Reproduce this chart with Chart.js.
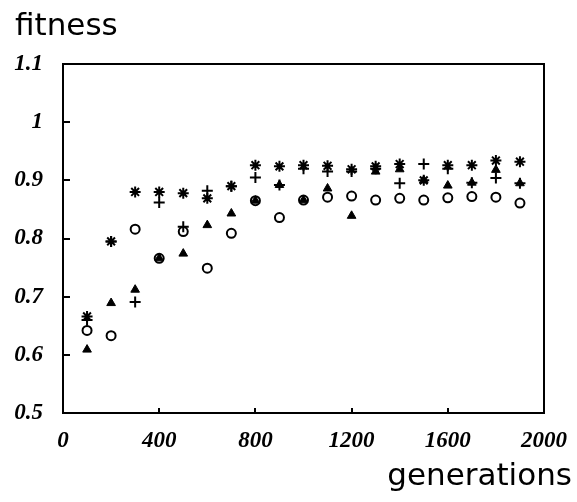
<!DOCTYPE html>
<html>
<head>
<meta charset="utf-8">
<script src="https://cdn.jsdelivr.net/npm/chart.js@4"></script>
<style>
  html, body { margin: 0; padding: 0; background: #fff; }
  #wrap { width: 577px; height: 502px; }
</style>
</head>
<body>
<div id="wrap"><canvas id="fitnessChart" width="577" height="502"></canvas></div>
<script>
// generations sampled every 100
const generations = [100, 200, 300, 400, 500, 600, 700, 800, 900, 1000,
  1100, 1200, 1300, 1400, 1500, 1600, 1700, 1800, 1900];

// fitness per run
const starFitness = [0.666, 0.795, 0.880, 0.880, 0.878, 0.869, 0.890, 0.926, 0.924, 0.926,
  0.925, 0.919, 0.924, 0.928, 0.900, 0.926, 0.926, 0.934, 0.932];
const plusFitness = [0.660, 0.795, 0.691, 0.862, 0.820, 0.882, 0.890, 0.905, 0.892, 0.920,
  0.915, 0.915, 0.920, 0.895, 0.928, 0.920, 0.896, 0.904, 0.895];
const triangleFitness = [0.609, 0.689, 0.712, 0.766, 0.774, 0.823, 0.843, 0.865, 0.892, 0.866,
  0.886, 0.839, 0.915, 0.919, 0.900, 0.891, 0.896, 0.918, 0.895];
const circleFitness = [0.642, 0.633, 0.816, 0.766, 0.812, 0.749, 0.809, 0.865, 0.836, 0.866,
  0.871, 0.873, 0.866, 0.869, 0.866, 0.870, 0.872, 0.871, 0.861];

const xTicks = [0, 400, 800, 1200, 1600, 2000];
const yTicks = [0.5, 0.6, 0.7, 0.8, 0.9, 1, 1.1];

const toPoints = (ys) => generations.map((g, i) => ({ x: g, y: ys[i] }));

const tickFont = { family: '"Liberation Serif", serif', size: 23, style: 'italic', weight: 'bold' };

// frame, inward tick marks and the two axis captions
const framePlugin = {
  id: 'frame',
  afterDraw(chart) {
    const { ctx, chartArea: a, scales } = chart;
    ctx.save();
    ctx.strokeStyle = '#000';
    ctx.lineWidth = 2;
    ctx.strokeRect(a.left, a.top, a.right - a.left, a.bottom - a.top);
    ctx.beginPath();
    xTicks.slice(1, -1).forEach(v => {
      const px = Math.round(scales.x.getPixelForValue(v));
      ctx.moveTo(px, a.bottom);
      ctx.lineTo(px, a.bottom - 5);
    });
    yTicks.slice(1, -1).forEach(v => {
      const py = Math.round(scales.y.getPixelForValue(v));
      ctx.moveTo(a.left, py);
      ctx.lineTo(a.left + 7, py);
    });
    ctx.stroke();

    ctx.fillStyle = '#000';
    ctx.font = '31px "DejaVu Sans", sans-serif';
    ctx.textBaseline = 'alphabetic';
    ctx.textAlign = 'left';
    ctx.fillText('fitness', 15, 35);
    ctx.textAlign = 'right';
    ctx.fillText('generations', 572, 485);
    ctx.restore();
  }
};

const ctx = document.getElementById('fitnessChart').getContext('2d');
new Chart(ctx, {
  type: 'scatter',
  data: {
    datasets: [
      {
        label: 'star',
        data: toPoints(starFitness),
        pointStyle: 'star',
        radius: 5.5,
        borderWidth: 2,
        borderColor: '#000',
        backgroundColor: '#000'
      },
      {
        label: 'plus',
        data: toPoints(plusFitness),
        pointStyle: 'cross',
        radius: 5.5,
        borderWidth: 2,
        borderColor: '#000',
        backgroundColor: '#000'
      },
      {
        label: 'triangle',
        data: toPoints(triangleFitness),
        pointStyle: 'triangle',
        radius: 5,
        borderWidth: 1,
        borderColor: '#000',
        backgroundColor: '#000'
      },
      {
        label: 'circle',
        data: toPoints(circleFitness),
        pointStyle: 'circle',
        radius: 4.5,
        borderWidth: 2,
        borderColor: '#000',
        backgroundColor: '#fff'
      }
    ]
  },
  options: {
    responsive: false,
    animation: false,
    devicePixelRatio: 1,
    layout: { padding: { left: 0, top: 64, right: 33, bottom: 0 } },
    plugins: {
      legend: { display: false },
      tooltip: { enabled: false }
    },
    scales: {
      x: {
        type: 'linear',
        min: 0,
        max: 2000,
        afterBuildTicks: (scale) => { scale.ticks = xTicks.map(v => ({ value: v })); },
        afterFit: (scale) => {
          scale.height = 89;
          scale.paddingLeft = 0;
          scale.paddingRight = 0;
        },
        grid: { display: false },
        border: { display: false },
        ticks: {
          color: '#000',
          font: tickFont,
          padding: 6,
          maxRotation: 0,
          callback: (v) => String(v)
        }
      },
      y: {
        min: 0.5,
        max: 1.1,
        afterBuildTicks: (scale) => { scale.ticks = yTicks.map(v => ({ value: v })); },
        afterFit: (scale) => {
          scale.width = 63;
          scale.paddingTop = 0;
          scale.paddingBottom = 0;
        },
        grid: { display: false },
        border: { display: false },
        ticks: {
          color: '#000',
          font: tickFont,
          padding: 12,
          callback: (v) => String(Math.round(v * 10) / 10)
        }
      }
    }
  },
  plugins: [framePlugin]
});
</script>
</body>
</html>
